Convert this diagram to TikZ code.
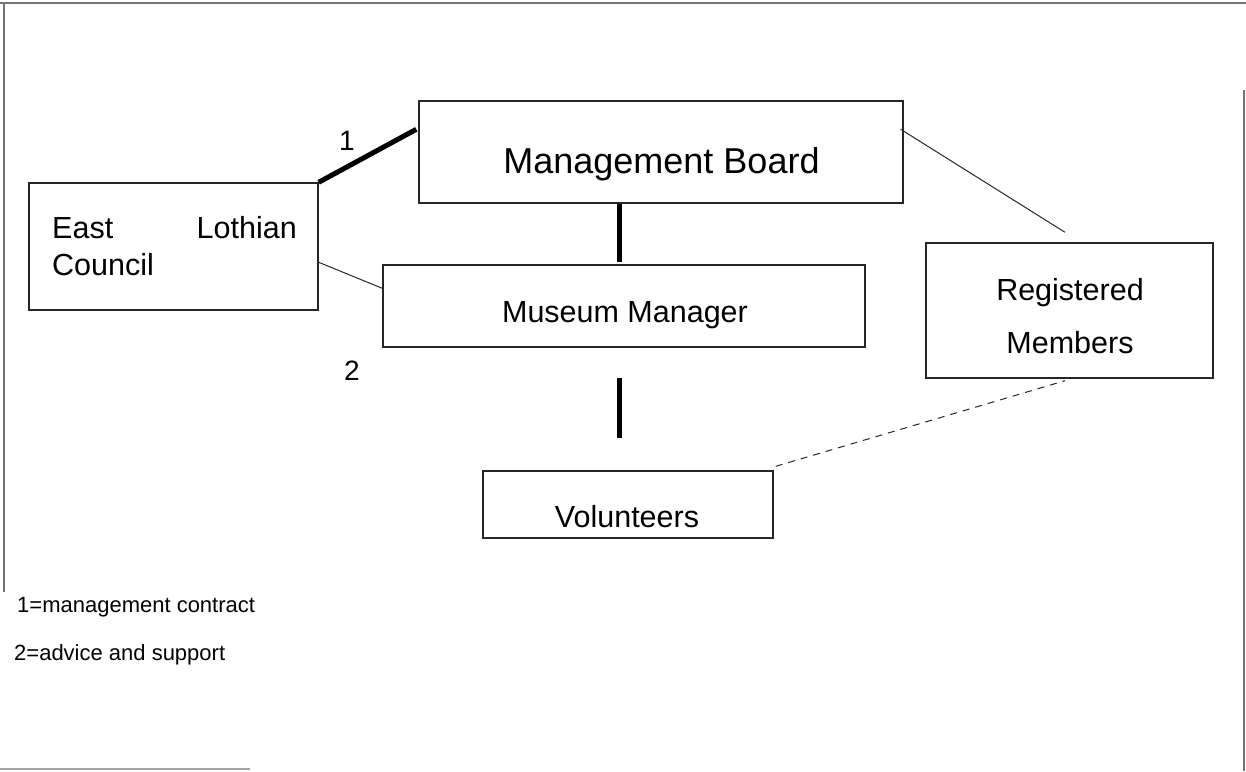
\documentclass[tikz,border=0pt]{standalone}
\usepackage{fontspec}
\setmainfont{Liberation Sans}
\usetikzlibrary{calc}
\begin{document}
\begin{tikzpicture}[x=1pt,y=-1pt,
  box/.style={draw=black!85,line width=1.4pt,inner sep=0pt,rectangle},
  thin/.style={draw=black!85,line width=1pt},
  thick/.style={draw=black,line width=5pt},
  frame/.style={draw=black!55,line width=1.3pt},
  fA/.style={font=\fontsize{36}{40}\selectfont},
  fB/.style={font=\fontsize{30.5}{34}\selectfont},
  fC/.style={font=\fontsize{28}{32}\selectfont},
  fL/.style={font=\fontsize{22}{26}\selectfont},
  txt/.style={inner sep=0pt,anchor=base}]
\useasboundingbox (0,0) rectangle (1246,771);
% frame
\coordinate (f1) at (0,3);
\coordinate (f2) at (1246,3);
\coordinate (f3) at (4,3);
\coordinate (f4) at (4,592);
\coordinate (f5) at (1244,90);
\coordinate (f6) at (1244,771);
\coordinate (f7) at (0,769);
\coordinate (f8) at (250,769);
\draw[frame] (f1) -- (f2);
\draw[frame] (f3) -- (f4);
\draw[frame] (f5) -- (f6);
\draw[frame,draw=black!35] (f7) -- (f8);
% boxes
\node[box,minimum width=484pt,minimum height=102pt] (mb) at (661,152) {};
\node[box,minimum width=482pt,minimum height=82pt] (mm) at (624,306) {};
\node[box,minimum width=290pt,minimum height=67pt] (v) at (628,504.5) {};
\node[box,minimum width=289pt,minimum height=127pt] (elc) at (173.5,246.5) {};
\node[box,minimum width=287pt,minimum height=135pt] (rm) at (1069.5,310.5) {};
% texts
\node[txt,fA] (mbt) at (661.5,173) {Management Board};
\node[txt,fB] (mmt) at (625,322) {Museum Manager};
\node[txt,fB] (vt) at (627,527) {Volunteers};
\node[txt,fB,anchor=base west] (elct1) at (52,238) {East};
\node[txt,fB,anchor=base east] (elct2) at (297,238) {Lothian};
\node[txt,fB,anchor=base west] (elct3) at (52,275) {Council};
\node[txt,fB] (rmt1) at (1070,300) {Registered};
\node[txt,fB] (rmt2) at (1070,353) {Members};
\node[txt,fC] (l1) at (347,150) {1};
\node[txt,fC] (l2) at (352,380) {2};
\node[txt,fL,anchor=base west] (leg1) at (17,612) {1=management contract};
\node[txt,fL,anchor=base west] (leg2) at (14,660) {2=advice and support};
% connectors
\draw[thick] (elc.north east) -- ($(mb.north west)+(-2,29)$);
\draw[thin] ($(elc.north east)+(0,80)$) -- ($(mm.north west)+(0,24)$);
\draw[thick] ($(mb.south)+(-42,0)$) -- ($(mm.north)+(-5,-2)$);
\coordinate (ta) at (619,378);
\coordinate (tb) at (619,438);
\draw[thick] (ta) -- (tb);
\draw[thin] ($(mb.north east)+(-3,29)$) -- ($(rm.north)+(-4.5,-10)$);
\draw[thin,dash pattern=on 7pt off 6pt] ($(v.north east)+(2,-4)$) -- ($(rm.south)+(-4.5,2)$);
\end{tikzpicture}
\end{document}
